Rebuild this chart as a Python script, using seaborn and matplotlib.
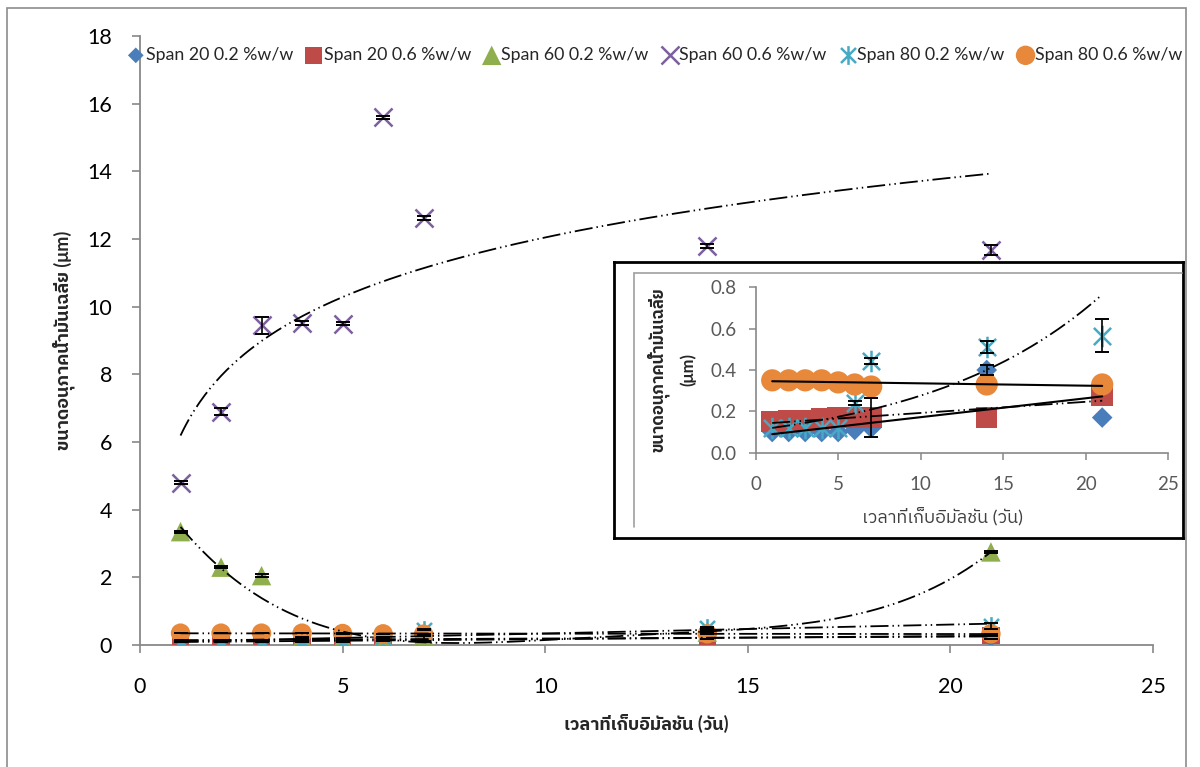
import numpy as np
import pandas as pd
import seaborn as sns
import matplotlib
matplotlib.use("Agg")
import matplotlib.pyplot as plt
from matplotlib.path import Path
from matplotlib import font_manager
from matplotlib.ft2font import FT2Font
from matplotlib.lines import Line2D
from matplotlib.patches import Rectangle

# ---------------- data ----------------
days = [1, 2, 3, 4, 5, 6, 7, 14, 21]
series_labels = ["Span 20 0.2 %w/w", "Span 20 0.6 %w/w", "Span 60 0.2 %w/w",
                 "Span 60 0.6 %w/w", "Span 80 0.2 %w/w", "Span 80 0.6 %w/w"]
span20_02 = [0.10, 0.10, 0.10, 0.10, 0.10, 0.11, 0.12, 0.40, 0.17]
span20_06 = [0.15, 0.155, 0.155, 0.165, 0.17, 0.17, 0.17, 0.17, 0.28]
span60_02 = [3.35, 2.30, 2.05, 0.22, 0.18, 0.22, 0.28, 0.38, 2.75]
span60_06 = [4.80, 6.90, 9.45, 9.52, 9.50, 15.60, 12.62, 11.79, 11.67]
span80_02 = [0.12, 0.12, 0.12, 0.12, 0.12, 0.24, 0.445, 0.51, 0.565]
span80_06 = [0.35, 0.35, 0.35, 0.35, 0.34, 0.33, 0.32, 0.33, 0.33]

err20_02 = [0.003, 0.003, 0.003, 0.003, 0.003, 0.003, 0.003, 0.025, 0.003]
err20_06 = [0.003, 0.003, 0.003, 0.003, 0.003, 0.003, 0.095, 0.003, 0.003]
err60_02 = [0.03, 0.03, 0.05, 0.02, 0.02, 0.02, 0.02, 0.02, 0.03]
err60_06 = [0.04, 0.10, 0.25, 0.05, 0.05, 0.04, 0.05, 0.05, 0.15]
err80_02 = [0.003, 0.003, 0.003, 0.003, 0.003, 0.01, 0.015, 0.03, 0.08]
err80_06 = [0.003, 0.003, 0.003, 0.003, 0.003, 0.003, 0.003, 0.003, 0.003]

xlabel_text = "เวลาที่เก็บอิมัลชัน (วัน)"
ylabel_text = "ขนาดอนุภาคน้ำมันเฉลี่ย (μm)"
inset_ylabel_text = "ขนาดอนุภาคน้ำมันเฉลี่ย\n(μm)"

# ---------------- fonts ----------------
sns.set_style("white")


def find_thai_family():
    found = []
    for fe in font_manager.fontManager.ttflist:
        try:
            cmap = FT2Font(fe.fname).get_charmap()
        except Exception:
            continue
        if all(ord(c) in cmap for c in "ขนาดอภคเฉลี่ย"):
            found.append(fe.name)
    if not found:
        return None
    for pref in ("Sans Thai", "Thai", "Sans"):
        for n in found:
            if pref in n:
                return n
    return found[0]


thai = find_thai_family()
families = ["Lato"] + ([thai] if thai else []) + ["DejaVu Sans"]
plt.rcParams["font.family"] = families

# ---------------- styles ----------------
colors = ["#4A7EBB", "#BE4B48", "#8FAF4F", "#7D60A0", "#46AAC5", "#E8883A"]
star = Path([(-1, -1), (1, 1), (-1, 1), (1, -1), (0, -1.25), (0, 1.25)],
            [Path.MOVETO, Path.LINETO, Path.MOVETO, Path.LINETO, Path.MOVETO, Path.LINETO])
markers = ["D", "s", "^", "x", star, "o"]
main_sizes = [8.0, 12.5, 14.0, 13.0, 13.5, 14.0]
inset_sizes = [10.5, 15.5, 13.5, 13.0, 15.5, 16.0]
values = [span20_02, span20_06, span60_02, span60_06, span80_02, span80_06]
errors = [err20_02, err20_06, err60_02, err60_06, err80_02, err80_06]
filled = [True, True, True, False, False, True]

df = pd.DataFrame({"day": days})
for lab, v in zip(series_labels, values):
    df[lab] = v

DASH = (10, 2.2, 0.8, 2.2, 0.8, 2.2)
xs = np.linspace(1, 21, 300)
d = np.array(days, dtype=float)


def lin_fit(v):
    return np.polyval(np.polyfit(d, v, 1), xs)


def log_fit(v):
    return np.polyval(np.polyfit(np.log(d), v, 1), np.log(xs))


def poly_fit(v, deg):
    return np.polyval(np.polyfit(d, v, deg), xs)


def exp_fit(v):
    return np.exp(np.polyval(np.polyfit(d, np.log(v), 1), xs))


def draw_series(ax, sizes, with_labels, which, min_err=0.0):
    for i in which:
        lab = series_labels[i]
        kw = dict(x="day", y=lab, data=df, ax=ax, marker=markers[i], s=sizes[i] ** 2,
                  color=colors[i], zorder=3 + i * 0.1,
                  label=lab if with_labels else None, legend=False)
        if filled[i]:
            kw.update(edgecolor="none", linewidth=0)
        else:
            kw.update(edgecolor=colors[i], linewidth=1.8)
        sns.scatterplot(**kw)
        keep = [k for k, e in enumerate(errors[i]) if e >= min_err]
        if keep:
            ax.errorbar([days[k] for k in keep], [values[i][k] for k in keep],
                        yerr=[errors[i][k] for k in keep], fmt="none", ecolor="black",
                        elinewidth=1.2, capsize=5, capthick=1.4, zorder=4)


# ---------------- figure ----------------
fig = plt.figure(figsize=(12, 7.67), dpi=100)
fig.add_artist(Rectangle((7 / 1200, -0.01), 1179 / 1200, 1 - 8 / 767 + 0.01,
                         transform=fig.transFigure, fill=False,
                         edgecolor="#8C8C8C", lw=1.2, zorder=0))

ax = fig.add_axes([140 / 1200, 1 - 645 / 767, 1013 / 1200, 609 / 767])
ax.set_zorder(1)
draw_series(ax, main_sizes, True, range(6))

# trend lines in main chart
ax.plot(xs, log_fit(span60_06), color="black", lw=1.3, dashes=DASH, zorder=6)
ax.plot(xs, poly_fit(span60_02, 4), color="black", lw=1.3, dashes=DASH, zorder=6)
for v in (span20_02, span20_06, span80_02, span80_06):
    ax.plot(xs, lin_fit(v), color="black", lw=1.3, dashes=DASH, zorder=6)

ax.set_xlim(0, 25)
ax.set_ylim(0, 18)
ax.set_xticks(range(0, 26, 5))
ax.set_yticks(range(0, 19, 2))
for s in ("top", "right"):
    ax.spines[s].set_visible(False)
for s in ("left", "bottom"):
    ax.spines[s].set_color("#888888")
    ax.spines[s].set_linewidth(1.3)
ax.tick_params(axis="both", direction="out", length=6, width=1.2, color="#888888",
               labelsize=15.5, labelcolor="black", left=True, bottom=True)
ax.tick_params(axis="x", pad=17)
ax.tick_params(axis="y", pad=14)
ax.set_xlabel(xlabel_text, fontsize=13, fontweight="bold", labelpad=12)
ax.set_ylabel(ylabel_text, fontsize=13, fontweight="bold")
ax.yaxis.set_label_coords(-0.064, 0.5)

leg = ax.legend(loc="upper left", bbox_to_anchor=(126 / 1200, 1 - 47 / 767),
                bbox_transform=fig.transFigure, ncol=6, frameon=False, fontsize=12.8,
                handletextpad=0.0, columnspacing=0.62, handlelength=1.1,
                borderaxespad=0, borderpad=0)
leg.set_zorder(20)

# ---------------- inset ----------------
box = fig.add_axes([614 / 1200, 1 - 538 / 767, 569 / 1200, 276 / 767])
box.set_zorder(5)
box.set_facecolor("white")
box.set_xticks([])
box.set_yticks([])
for s in box.spines.values():
    s.set_color("black")
    s.set_linewidth(2)
fig.add_artist(Line2D([634 / 1200, 634 / 1200], [1 - 527 / 767, 1 - 273 / 767],
                      transform=fig.transFigure, color="#A0A0A0", lw=1.2, zorder=6))
fig.add_artist(Line2D([634 / 1200, 1182 / 1200], [1 - 273 / 767, 1 - 273 / 767],
                      transform=fig.transFigure, color="#A0A0A0", lw=1.2, zorder=6))

ins = fig.add_axes([755.7 / 1200, 1 - 452.7 / 767, 412.5 / 1200, 165.4 / 767])
ins.set_zorder(7)
ins.set_facecolor("none")
draw_series(ins, inset_sizes, False, [0, 1, 4, 5], min_err=0.01)
ins.plot(xs, lin_fit(span80_06), color="black", lw=1.5, zorder=6)
ins.plot(xs, lin_fit(span20_02), color="black", lw=1.5, zorder=6)
ins.plot(xs, lin_fit(span20_06), color="black", lw=1.3, dashes=DASH, zorder=6)
ins.plot(xs, exp_fit(span80_02), color="black", lw=1.3, dashes=DASH, zorder=6)
ins.set_xlim(0, 25)
ins.set_ylim(0, 0.8)
ins.set_xticks(range(0, 26, 5))
ins.set_yticks(np.arange(0, 0.81, 0.2))
ins.yaxis.set_major_formatter(matplotlib.ticker.FormatStrFormatter("%.1f"))
for s in ("top", "right"):
    ins.spines[s].set_visible(False)
for s in ("left", "bottom"):
    ins.spines[s].set_color("#888888")
    ins.spines[s].set_linewidth(1.2)
ins.tick_params(axis="both", direction="out", length=5, width=1.1, color="#888888",
                labelsize=13.5, labelcolor="#595959", left=True, bottom=True)
ins.tick_params(axis="x", pad=12)
ins.tick_params(axis="y", pad=9)
ins.set_xlabel(xlabel_text, fontsize=13, color="#404040")
ins.xaxis.set_label_coords(0.452, -0.33)
ins.set_ylabel(inset_ylabel_text, fontsize=12, fontweight="bold", linespacing=1.7)
ins.yaxis.set_label_coords(-0.145, 0.5)

fig.savefig("out.png", dpi=100)
